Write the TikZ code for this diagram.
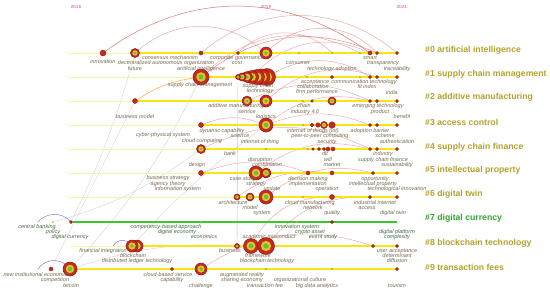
\documentclass[tikz,border=0pt]{standalone}
\usepackage{fontspec}
\setmainfont{Liberation Sans}
\usetikzlibrary{backgrounds}

\definecolor{citred}{RGB}{200,40,30}
\definecolor{citdark}{RGB}{140,25,15}
\definecolor{ringyel}{RGB}{215,200,50}
\definecolor{ringgrn}{RGB}{110,190,45}
\definecolor{speckgrn}{RGB}{165,180,70}
\definecolor{spineyel}{RGB}{245,230,20}
\definecolor{spinegrn}{RGB}{60,200,40}
\definecolor{lblgray}{RGB}{120,105,80}
\definecolor{lblgrn}{RGB}{70,105,70}
\definecolor{cluolive}{RGB}{178,162,45}
\definecolor{clugrn}{RGB}{50,165,45}
\definecolor{yearmag}{RGB}{200,60,200}
\definecolor{arcred}{RGB}{205,75,65}
\definecolor{arcpur}{RGB}{140,120,220}

\begin{document}
\begin{tikzpicture}[
    x=1pt, y=-1pt,
    hub/.style={circle, inner sep=0pt, minimum size=#1, fill=citred, draw=citdark, line width=0.5pt,
      path picture={\fill[ringyel] (path picture bounding box.center) circle (0.3*#1);
                    \fill[ringgrn] (path picture bounding box.center) circle (0.16*#1);}},
    blip/.style={circle, inner sep=0pt, minimum size=#1, fill=citred, draw=citdark, line width=0.4pt},
    speck/.style={circle, inner sep=0pt, minimum size=2.4pt, fill=speckgrn},
    spine/.style={draw=spineyel, line width=1.6pt},
    faint/.style={draw=spineyel!40, line width=1pt},
    citelink/.style={draw=arcred, line width=0.5pt, opacity=0.45},
    greylink/.style={draw=gray!35, line width=0.4pt},
    purplink/.style={draw=arcpur, line width=0.5pt},
    lbl/.style={font=\fontsize{5.5}{6}\selectfont\itshape, text=lblgray, inner sep=0pt},
    clu/.style={font=\fontsize{8.7}{10}\selectfont\bfseries, text=cluolive, anchor=west, inner sep=0pt},
    year/.style={font=\fontsize{4.5}{5}\selectfont, text=yearmag, inner sep=0pt}
]
\useasboundingbox (0,0) rectangle (550,293);

% ---- years ----
\node[year] (y16) at (76,7) {2016};
\node[year] (y19) at (266,7) {2019};
\node[year] (y21) at (402,7) {2021};

% ---- #0 artificial intelligence ----
\coordinate (ai0) at (70,53);
\node[blip=6pt] (ai1) at (103,53) {};
\node[hub=9pt] (ai2) at (135,53) {};
\node[blip=4pt] (ai3) at (201,53) {};
\node[blip=3pt] (ai4) at (238,53) {};
\node[hub=12pt] (ai5) at (266,53) {};
\node[speck] (ai6) at (299,53) {};
\node[speck] (ai7) at (332,53) {};
\node[speck] (ai8) at (360,53) {};
\node[blip=4pt] (ai9) at (370,53) {};
\node[blip=3pt] (ai10) at (377,53) {};
\node[blip=3pt] (ai11) at (397,53) {};

% ---- #1 supply chain management ----
\coordinate (scm0) at (70,77);
\node[hub=16pt] (scm1) at (201,77) {};
\node[hub=17pt] (scm8) at (267,77) {};
\node[hub=16pt] (scm7) at (262,77) {};
\node[hub=15pt] (scm6) at (257,77) {};
\node[hub=13pt] (scm5) at (252,77) {};
\node[hub=11pt] (scm4) at (247,77) {};
\node[hub=8pt] (scm3) at (242,77) {};
\node[hub=5pt] (scm2) at (238,77) {};
\node[speck] (scm9) at (307,77) {};
\node[blip=3pt] (scm10) at (332,77) {};
\node[speck] (scm11) at (360,77) {};
\node[blip=3pt] (scm12) at (370,77) {};
\node[blip=3pt] (scm13) at (377,77) {};
\node[blip=3pt] (scm14) at (397,77) {};

% ---- #2 additive manufacturing ----
\coordinate (am0) at (70,101);
\node[blip=5pt] (am1) at (135,101) {};
\node[hub=10pt] (am2) at (247,101) {};
\node[hub=12pt] (am3) at (266,101) {};
\node[speck] (am4) at (303,101) {};
\node[blip=2.5pt] (am5) at (312,101) {};
\node[hub=8pt] (am6) at (332,101) {};
\node[blip=3pt] (am7) at (370,101) {};
\node[blip=3pt] (am8) at (377,101) {};
\node[blip=3pt] (am9) at (397,101) {};

% ---- #3 access control ----
\coordinate (ac0) at (70,125);
\node[blip=5pt] (ac1) at (201,125) {};
\node[hub=14pt] (ac2) at (266,125) {};
\node[speck] (ac3) at (303,125) {};
\node[blip=3.5pt] (ac4) at (312,125) {};
\node[blip=4.5pt] (ac5) at (318,125) {};
\node[hub=7pt] (ac6) at (324,125) {};
\node[blip=6.5pt] (ac7) at (332,125) {};
\node[blip=3pt] (ac8) at (370,125) {};
\node[blip=3pt] (ac9) at (377,125) {};
\node[blip=3pt] (ac10) at (397,125) {};

% ---- #4 supply chain finance ----
\coordinate (scf0) at (70,149);
\node[hub=9pt] (scf1) at (201,149) {};
\node[speck] (scf2) at (266,149) {};
\node[speck] (scf3) at (308,149) {};
\node[blip=2.5pt] (scf4) at (313,149) {};
\node[blip=3pt] (scf5) at (319,149) {};
\node[blip=3pt] (scf6) at (324,149) {};
\node[blip=4pt] (scf7) at (328,149) {};
\node[blip=4pt] (scf8) at (333,149) {};
\node[blip=3pt] (scf9) at (370,149) {};
\node[blip=3pt] (scf10) at (377,149) {};
\node[blip=3pt] (scf11) at (397,149) {};

% ---- #5 intellectual property ----
\coordinate (ip0) at (70,173);
\node[blip=5pt] (ip1) at (201,173) {};
\node[hub=14pt] (ip2) at (256,173) {};
\node[hub=10pt] (ip3) at (266,173) {};
\node[blip=4pt] (ip4) at (308,173) {};
\node[blip=4pt] (ip5) at (332,173) {};
\node[blip=3pt] (ip6) at (373,173) {};
\node[blip=3pt] (ip7) at (397,173) {};

% ---- #6 digital twin ----
\coordinate (dt0) at (70,197);
\node[hub=6pt] (dt1) at (237,197) {};
\node[hub=8pt] (dt2) at (250,197) {};
\node[hub=14pt] (dt3) at (266,197) {};
\node[speck] (dt4) at (303,197) {};
\node[blip=5pt] (dt5) at (332,197) {};
\node[blip=3pt] (dt6) at (370,197) {};
\node[blip=3pt] (dt7) at (397,197) {};

% ---- #7 digital currency ----
\coordinate (dcp) at (38,222);
\node[speck, fill=ringyel] (dc0) at (53,222) {};
\node[blip=3pt] (dc1) at (71,222) {};
\node[speck, minimum size=3pt, fill=ringgrn] (dc2) at (201,222) {};
\node[speck] (dc3) at (297,222) {};
\node[blip=3pt] (dc4) at (332,222) {};
\coordinate (dc5) at (397,222);

% ---- #8 blockchain technology ----
\coordinate (bt0) at (70,246);
\coordinate (btp) at (113,246);
\node[hub=12pt] (bt1) at (137,246) {};
\node[hub=12pt] (bt2) at (132,246) {};
\node[hub=5pt] (bt3) at (237,246) {};
\node[hub=15pt] (bt4) at (251,246) {};
\node[hub=17pt] (bt5) at (266,246) {};
\node[blip=3pt] (bt6) at (373,246) {};
\node[blip=3pt] (bt7) at (397,246) {};

% ---- #9 transaction fees ----
\coordinate (tfp) at (38,269);
\node[blip=4pt] (tf0) at (51,269) {};
\node[hub=14pt] (tf1) at (70,269) {};
\node[blip=3pt] (tf2) at (172,269) {};
\node[hub=12pt] (tf3) at (201,269) {};
\node[speck] (tf4) at (266,269) {};
\node[speck] (tf5) at (332,269) {};
\node[blip=3pt] (tf6) at (397,269) {};

% ---- links and timelines, behind the nodes ----
\begin{scope}[on background layer]
\draw[citelink, opacity=0.75] (ai1) to[bend left=36] (ai9);
\draw[citelink] (ai2) to[bend left=40] (ai5);
\draw[citelink] (ai3) to[bend left=40] (ai11);
\draw[citelink] (ai4) to[bend left=45] (ai7);
\draw[citelink] (ai5) to[bend left=45] (ai10);
\draw[citelink, opacity=0.6] (scm1) to[bend left=30] (ai10);
\draw[citelink] (scm1) to[bend left=35] (ai8);
\draw[citelink] (scm8) to[bend left=30] (scm12);
\draw[citelink] (scm5) to[bend left=35] (ai9);
\draw[citelink, draw=orange, opacity=0.7] (am1) to[bend left=12] (scm1);
\draw[citelink] (am3) to[bend left=30] (scm13);
\draw[citelink] (am2) to[bend left=25] (am7);
\draw[citelink] (ac2) to[bend left=25] (am7);
\draw[citelink] (ac1) to[bend left=20] (ac2);
\draw[citelink] (ac2) to[bend left=20] (ac8);
\draw[citelink] (scf1) to[bend left=25] (scf9);
\draw[citelink] (ip2) to[bend left=25] (scf9);
\draw[citelink] (ip1) to[bend left=20] (ip4);
\draw[citelink] (dt3) to[bend left=25] (ip6);
\draw[citelink] (dt1) to[bend left=20] (ip5);
\draw[citelink] (bt5) to[bend left=25] (dt6);
\draw[citelink] (bt4) to[bend left=30] (dt5);
\draw[citelink] (tf3) to[bend left=25] (bt6);
\draw[greylink] (tf1) to[bend right=8] (scm1);
\draw[greylink] (dc1) to[bend right=5] (ai2);
\draw[greylink] (bt2) to[bend left=5] (ac2);
\draw[greylink] (tf0) -- (am1);
\draw[greylink] (dc0) to[bend right=10] (scf1);
\draw[greylink] (tf1) to[bend left=10] (bt4);
\draw[draw=spinegrn!50, line width=0.4pt] (scm2) -- (bt3);
\draw[purplink] (dcp) to[bend left=48] (dc1);
\draw[purplink] (btp) to[bend left=45] (bt2);
\draw[purplink] (tfp) to[bend left=45] (tf1);

\draw[faint] (ai0) -- (ai2);
\draw[spine] (ai2) -- (ai11);
\draw[faint] (scm0) -- (scm1);
\draw[spine] (scm1) -- (scm14);
\draw[faint] (am0) -- (am1);
\draw[spine] (am1) -- (am9);
\draw[faint] (ac0) -- (ac1);
\draw[spine] (ac1) -- (ac10);
\draw[faint] (scf0) -- (scf1);
\draw[spine] (scf1) -- (scf11);
\draw[faint] (ip0) -- (ip1);
\draw[spine] (ip1) -- (ip7);
\draw[faint] (dt0) -- (dt1);
\draw[spine] (dt1) -- (dt7);
\draw[spine, draw=spinegrn] (dc1) -- (dc5);
\draw[faint] (bt0) -- (bt2);
\draw[spine] (bt2) -- (bt7);
\draw[spine] (tf1) -- (tf6);
\end{scope}

% ---- keyword labels ----
\node[lbl] (t0a) at (103,62) {innovation};
\node[lbl] (t0b) at (170,58) {consensus mechanism};
\node[lbl] (t0c) at (166,63) {decentralized autonomous organization};
\node[lbl] (t0d) at (135,69) {future};
\node[lbl] (t0e) at (201,69) {artificial intelligence};
\node[lbl] (t0f) at (237,58) {corporate governance};
\node[lbl] (t0g) at (237,63) {cost};
\node[lbl] (t0h) at (298,63) {consumer};
\node[lbl] (t0i) at (332,69) {technology adoption};
\node[lbl] (t0j) at (370,58) {smart};
\node[lbl] (t0k) at (383,63) {transparency};
\node[lbl] (t0l) at (397,69) {traceability};

\node[lbl] (t1a) at (200,85) {supply chain management};
\node[lbl] (t1b) at (258,86) {supply chain};
\node[lbl] (t1c) at (260,91) {technology};
\node[lbl] (t1d) at (315,82) {acceptance};
\node[lbl] (t1e) at (364,82) {communication technology};
\node[lbl] (t1f) at (313,87) {collaboration};
\node[lbl] (t1g) at (367,87) {fit index};
\node[lbl] (t1h) at (317,92) {firm performance};
\node[lbl] (t1i) at (392,93) {india};

\node[lbl] (t2a) at (236,106) {additive manufacturing};
\node[lbl] (t2b) at (247,112) {service};
\node[lbl] (t2c) at (304,106) {chain};
\node[lbl] (t2d) at (305,112) {industry 4.0};
\node[lbl] (t2e) at (378,106) {emerging technology};
\node[lbl] (t2f) at (380,112) {product};
\node[lbl] (t2g) at (402,117) {benefit};
\node[lbl] (t2h) at (135,117) {business model};
\node[lbl] (t2i) at (266,117) {logistics};

\node[lbl] (t3a) at (163,135) {cyber-physical system};
\node[lbl] (t3b) at (202,141) {cloud computing};
\node[lbl] (t3c) at (222,131) {dynamic capability};
\node[lbl] (t3d) at (240,136) {science};
\node[lbl] (t3e) at (260,142) {internet of thing};
\node[lbl] (t3f) at (313,131) {internet of things (iot)};
\node[lbl] (t3g) at (320,136) {peer-to-peer computing};
\node[lbl] (t3h) at (327,142) {security};
\node[lbl] (t3i) at (370,131) {adoption barrier};
\node[lbl] (t3j) at (385,136) {scheme};
\node[lbl] (t3k) at (397,142) {authentication};

\node[lbl] (t4a) at (230,154) {bank};
\node[lbl] (t4b) at (260,160) {disruption};
\node[lbl] (t4c) at (267,165) {combination};
\node[lbl] (t4d) at (197,165) {design};
\node[lbl] (t4e) at (325,154) {dlt};
\node[lbl] (t4f) at (328,160) {will};
\node[lbl] (t4g) at (332,165) {market};
\node[lbl] (t4h) at (383,154) {industry};
\node[lbl] (t4i) at (383,160) {supply chain finance};
\node[lbl] (t4j) at (397,165) {sustainability};

\node[lbl] (t5a) at (168,178) {business strategy};
\node[lbl] (t5b) at (168,184) {agency theory};
\node[lbl] (t5c) at (178,189) {information system};
\node[lbl] (t5d) at (243,179) {case study};
\node[lbl] (t5e) at (256,184) {strategy};
\node[lbl] (t5f) at (272,189) {update};
\node[lbl] (t5g) at (308,179) {decision making};
\node[lbl] (t5h) at (308,184) {implementation};
\node[lbl] (t5i) at (327,189) {operation};
\node[lbl] (t5j) at (375,179) {opportunity};
\node[lbl] (t5k) at (373,184) {intellectual property};
\node[lbl] (t5l) at (397,189) {technological innovation};

\node[lbl] (t6a) at (233,203) {architecture};
\node[lbl] (t6b) at (250,208) {model};
\node[lbl] (t6c) at (262,213) {system};
\node[lbl] (t6d) at (310,203) {cloud manufacturing};
\node[lbl] (t6e) at (313,208) {network};
\node[lbl] (t6f) at (332,213) {quality};
\node[lbl] (t6g) at (375,203) {industrial internet};
\node[lbl] (t6h) at (367,208) {access};
\node[lbl] (t6i) at (393,213) {digital twin};

\node[lbl, text=lblgrn] (t7a) at (37,227) {central banking};
\node[lbl, text=lblgrn] (t7b) at (53,232) {policy};
\node[lbl, text=lblgrn] (t7c) at (70,237) {digital currency};
\node[lbl, text=lblgrn] (t7d) at (166,227) {competency-based approach};
\node[lbl, text=lblgrn] (t7e) at (177,232) {digital economy};
\node[lbl, text=lblgrn] (t7f) at (204,237) {economics};
\node[lbl, text=lblgrn] (t7g) at (297,227) {innovation system};
\node[lbl, text=lblgrn] (t7h) at (310,232) {crypto asset};
\node[lbl, text=lblgrn] (t7i) at (323,237) {event study};
\node[lbl, text=lblgrn] (t7j) at (397,232) {digital platform};
\node[lbl, text=lblgrn] (t7k) at (397,237) {complexity};

\node[lbl] (t8a) at (269,237) {academic misconduct};
\node[lbl] (t8b) at (103,251) {financial integration};
\node[lbl] (t8c) at (133,256) {blockchain};
\node[lbl] (t8d) at (137,261) {distributed ledger technology};
\node[lbl] (t8e) at (230,251) {business};
\node[lbl] (t8f) at (258,256) {framework};
\node[lbl] (t8g) at (267,261) {blockchain technology};
\node[lbl] (t8h) at (397,251) {user acceptance};
\node[lbl] (t8i) at (397,256) {determinant};
\node[lbl] (t8j) at (397,261) {diffusion};

\node[lbl] (t9a) at (37,275) {new institutional economics};
\node[lbl] (t9b) at (55,280) {competition};
\node[lbl] (t9c) at (71,286) {bitcoin};
\node[lbl] (t9d) at (168,275) {cloud-based service};
\node[lbl] (t9e) at (172,280) {capability};
\node[lbl] (t9f) at (201,286) {challenge};
\node[lbl] (t9g) at (242,275) {augmented reality};
\node[lbl] (t9h) at (242,280) {sharing economy};
\node[lbl] (t9i) at (265,286) {transaction fee};
\node[lbl] (t9j) at (300,280) {organizational culture};
\node[lbl] (t9k) at (317,286) {big data analytics};
\node[lbl] (t9l) at (397,286) {tourism};

% ---- cluster labels ----
\node[clu] (c0) at (425,50) {\#0 artificial intelligence};
\node[clu] (c1) at (425,74) {\#1 supply chain management};
\node[clu] (c2) at (425,97) {\#2 additive manufacturing};
\node[clu] (c3) at (425,122) {\#3 access control};
\node[clu] (c4) at (425,147) {\#4 supply chain finance};
\node[clu] (c5) at (425,170) {\#5 intellectual property};
\node[clu] (c6) at (425,194) {\#6 digital twin};
\node[clu, text=clugrn] (c7) at (425,218) {\#7 digital currency};
\node[clu] (c8) at (425,243) {\#8 blockchain technology};
\node[clu] (c9) at (425,267) {\#9 transaction fees};

\end{tikzpicture}
\end{document}
